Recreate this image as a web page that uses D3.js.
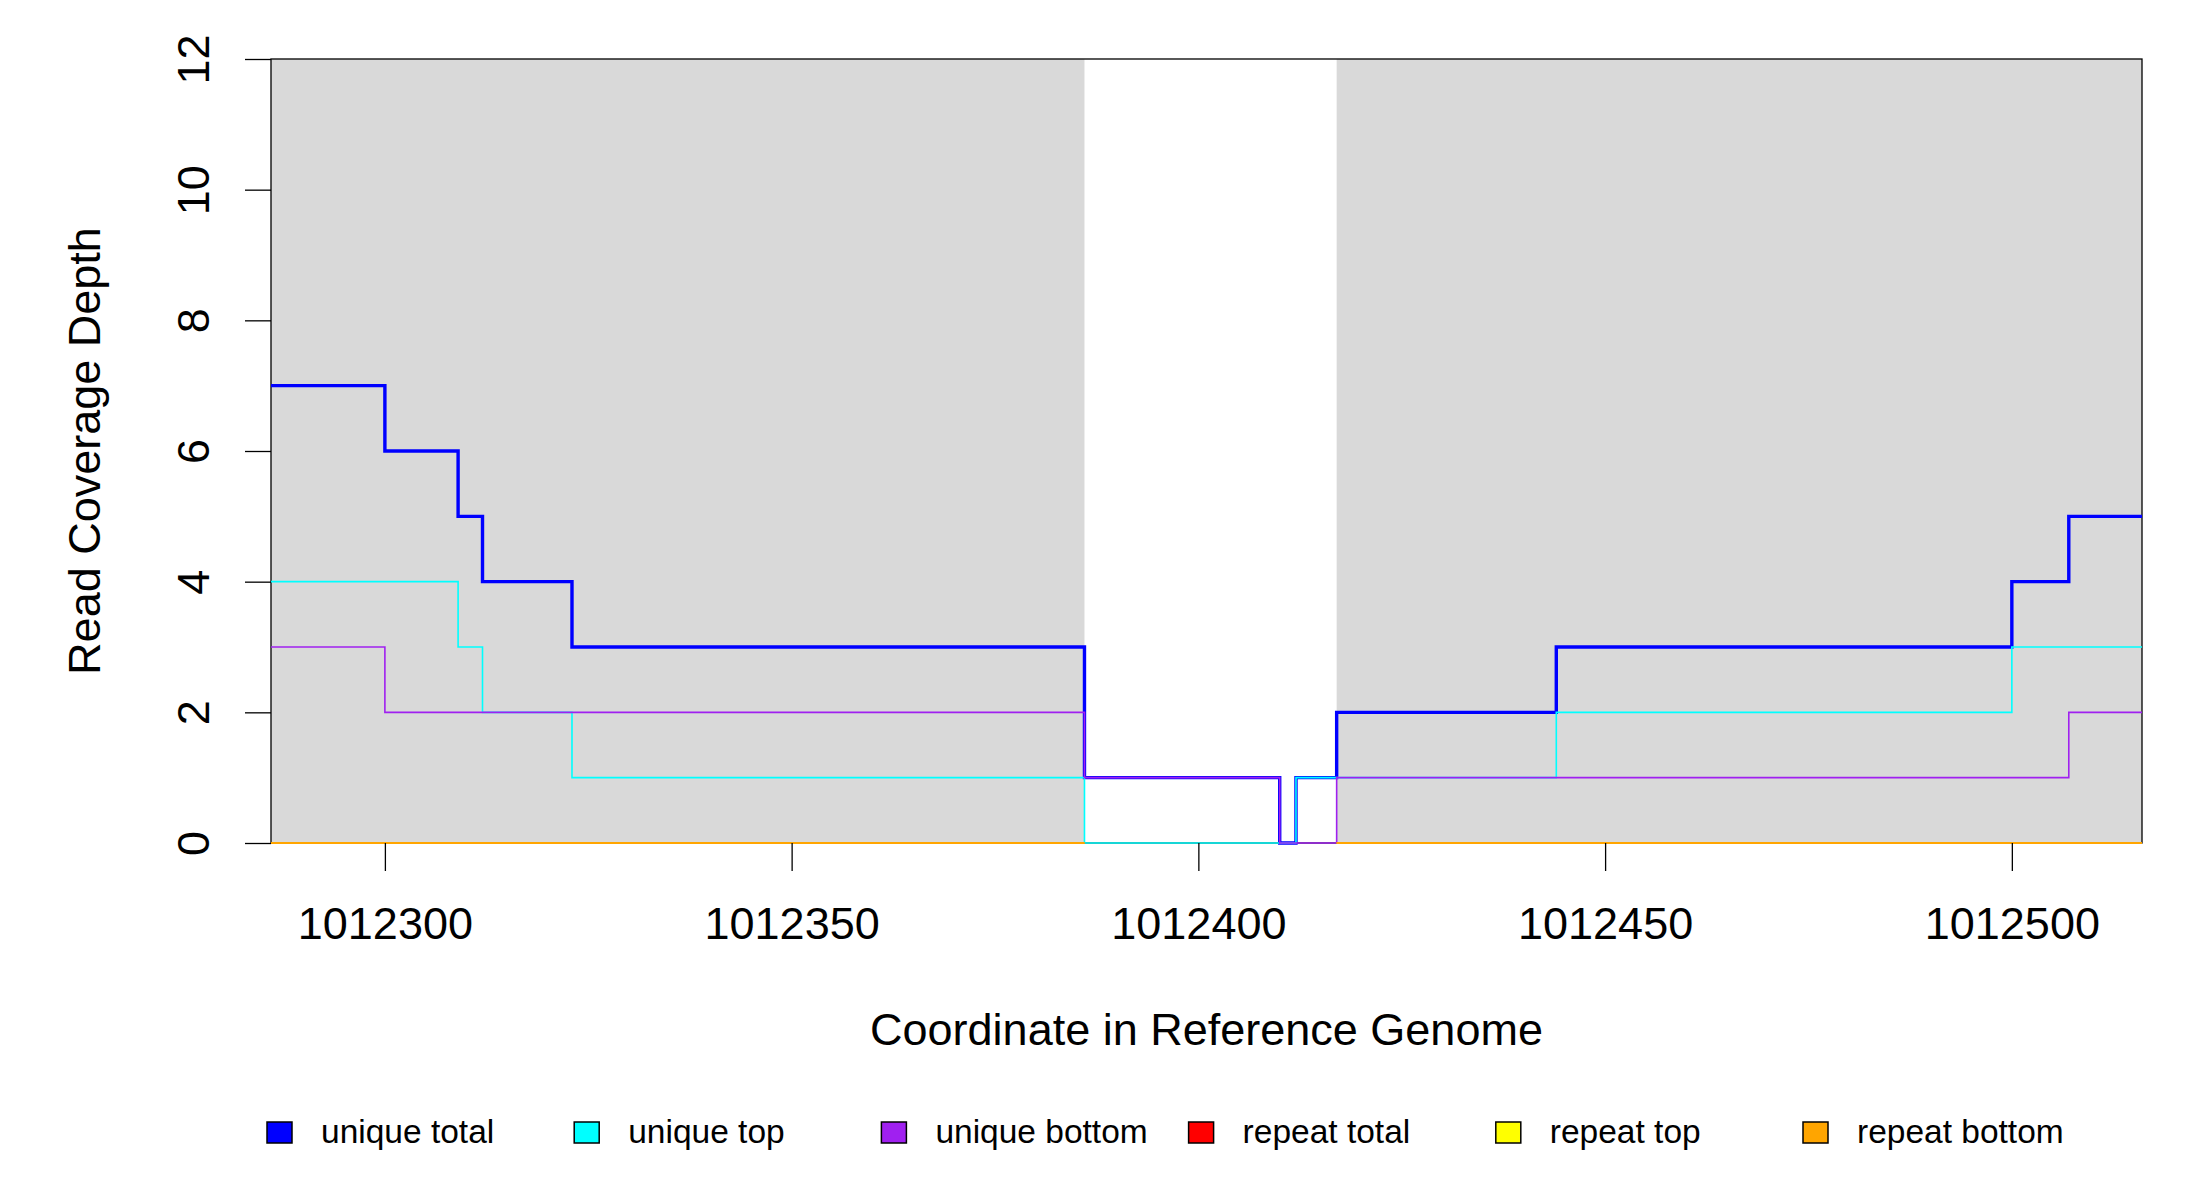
<!DOCTYPE html>
<html>
<head>
<meta charset="utf-8">
<script src="https://cdn.jsdelivr.net/npm/d3@7"></script>
<style>
  html, body { margin: 0; padding: 0; background: #fff; }
  svg { display: block; }
  text { font-family: "Liberation Sans", Arial, Helvetica, sans-serif; fill: #000; }
</style>
</head>
<body>
<svg id="chart" width="2200" height="1200"></svg>
<script>
// ---------------- data ----------------
const xDomain = [1012286, 1012516];
const yDomain = [0, 12];
const xTicks = [1012300, 1012350, 1012400, 1012450, 1012500];
const yTicks = [0, 2, 4, 6, 8, 10, 12];

// segment start coordinates (each value holds until the next start / xEnd)
const segStarts = [1012286, 1012300, 1012309, 1012312, 1012323, 1012386, 1012410, 1012412, 1012417, 1012444, 1012500, 1012507];
const xEnd = 1012516;

const uniqueTotal  = [7, 6, 5, 4, 3, 1, 0, 1, 2, 3, 4, 5];
const uniqueTop    = [4, 4, 3, 2, 1, 0, 0, 1, 1, 2, 3, 3];
const uniqueBottom = [3, 2, 2, 2, 2, 1, 0, 0, 1, 1, 1, 2];
const repeatTotal  = [0, 0, 0, 0, 0, NaN, NaN, NaN, 0, 0, 0, 0];
const repeatTop    = [0, 0, 0, 0, 0, NaN, NaN, NaN, 0, 0, 0, 0];
const repeatBottom = [0, 0, 0, 0, 0, NaN, NaN, NaN, 0, 0, 0, 0];

// shaded (gray) regions
const shadedRegions = [[1012286, 1012386], [1012417, 1012516]];

const seriesNames  = ["unique total", "unique top", "unique bottom", "repeat total", "repeat top", "repeat bottom"];
const seriesColors = ["#0000FF", "#00FFFF", "#A020F0", "#FF0000", "#FFFF00", "#FFA500"];
const seriesValues = [uniqueTotal, uniqueTop, uniqueBottom, repeatTotal, repeatTop, repeatBottom];
const seriesWidths = [3.4, 1.6, 1.6, 1.6, 1.6, 1.8];

// ---------------- layout ----------------
const plot = { left: 271, right: 2142, top: 59, bottom: 843 };
const svg = d3.select("#chart");

const x = d3.scaleLinear().domain(xDomain).range([plot.left, plot.right]);
const y = d3.scaleLinear().domain(yDomain).range([plot.bottom, plot.top]);

// shaded regions
svg.append("g").selectAll("rect").data(shadedRegions).join("rect")
  .attr("x", d => x(d[0]))
  .attr("y", y(yDomain[1]))
  .attr("width", d => x(d[1]) - x(d[0]))
  .attr("height", y(yDomain[0]) - y(yDomain[1]))
  .attr("fill", "#D9D9D9");

// plot box
svg.append("rect")
  .attr("x", plot.left).attr("y", plot.top)
  .attr("width", plot.right - plot.left).attr("height", plot.bottom - plot.top)
  .attr("fill", "none").attr("stroke", "#000").attr("stroke-width", 1.3);

// step lines
function stepPoints(vals) {
  const pts = [];
  for (let i = 0; i < segStarts.length; i++) {
    const x0 = segStarts[i];
    const x1 = i + 1 < segStarts.length ? segStarts[i + 1] : xEnd;
    pts.push([x0, vals[i]]);
    pts.push([x1, vals[i]]);
    if (i + 1 < segStarts.length && (isNaN(vals[i]) !== isNaN(vals[i + 1]))) {
      pts.push([x1, NaN]);
    }
  }
  return pts;
}
const line = d3.line()
  .defined(d => !isNaN(d[1]))
  .x(d => x(d[0]))
  .y(d => y(d[1]));

const linesG = svg.append("g");
seriesValues.forEach((vals, i) => {
  linesG.append("path")
    .attr("d", line(stepPoints(vals)))
    .attr("fill", "none")
    .attr("stroke", seriesColors[i])
    .attr("stroke-width", seriesWidths[i])
    .attr("stroke-linejoin", "miter")
    .attr("stroke-linecap", "butt");
});

const FS = 45;

// y axis
const yAxis = d3.axisLeft(y).tickValues(yTicks).tickSize(26).tickPadding(0).tickFormat(d3.format("d"));
const yG = svg.append("g").attr("transform", `translate(${plot.left},0)`).call(yAxis);
yG.select(".domain").remove();
yG.selectAll(".tick line").attr("stroke", "#000").attr("stroke-width", 1.3);
yG.selectAll(".tick text")
  .attr("x", null).attr("dy", null)
  .attr("transform", `translate(${209 - plot.left},0) rotate(-90)`)
  .attr("text-anchor", "middle")
  .style("font-size", FS + "px")
  .style("font-family", "'Liberation Sans', Arial, sans-serif")
  .attr("fill", "#000");

// x axis
const xAxis = d3.axisBottom(x).tickValues(xTicks).tickSize(28).tickPadding(0).tickFormat(d3.format("d"));
const xG = svg.append("g").attr("transform", `translate(0,${plot.bottom})`).call(xAxis);
xG.select(".domain").remove();
xG.selectAll(".tick line").attr("stroke", "#000").attr("stroke-width", 1.3);
xG.selectAll(".tick text")
  .attr("y", 939 - plot.bottom).attr("dy", null)
  .attr("text-anchor", "middle")
  .style("font-size", FS + "px")
  .style("font-family", "'Liberation Sans', Arial, sans-serif")
  .attr("fill", "#000");

// axis titles
svg.append("text")
  .attr("x", (plot.left + plot.right) / 2).attr("y", 1045)
  .attr("text-anchor", "middle").style("font-size", FS + "px")
  .text("Coordinate in Reference Genome");
svg.append("text")
  .attr("transform", `translate(100,${(plot.top + plot.bottom) / 2}) rotate(-90)`)
  .attr("text-anchor", "middle").style("font-size", FS + "px")
  .text("Read Coverage Depth");

// legend
const legend = svg.append("g");
const legStep = 307.2;
seriesNames.forEach((name, i) => {
  legend.append("rect")
    .attr("x", 267 + i * legStep).attr("y", 1122)
    .attr("width", 25).attr("height", 21)
    .attr("fill", seriesColors[i]).attr("stroke", "#000").attr("stroke-width", 1.5);
  legend.append("text")
    .attr("x", 321 + i * legStep).attr("y", 1143)
    .style("font-size", "33.5px")
    .text(name);
});
</script>
</body>
</html>
